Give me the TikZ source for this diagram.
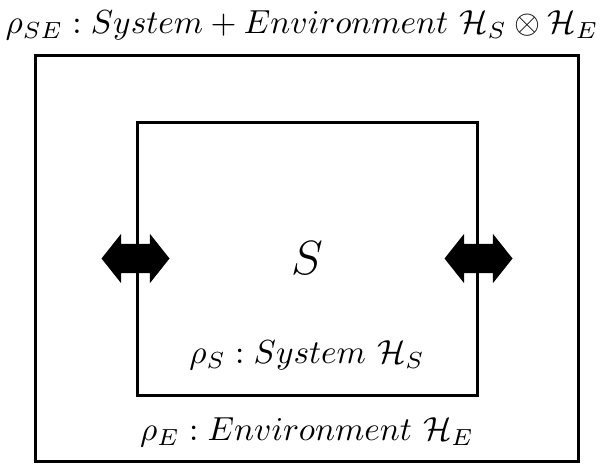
\documentclass[tikz,border=0pt]{standalone}
\usepackage{amsmath,amssymb}
\usetikzlibrary{positioning,shapes.arrows}

\begin{document}
\begin{tikzpicture}[
  x=0.3pt, y=-0.3pt,
  frame/.style={draw=black, line width=0.9pt, inner sep=0pt},
  swap/.style={double arrow, fill=black, draw=none, inner sep=0pt,
               text height=4.2pt, text depth=4.2pt, minimum height=20.4pt,
               double arrow head extend=3pt, double arrow tip angle=103},
  lab/.style={inner sep=0pt}
]
\useasboundingbox (0,0) rectangle (605,464);

% Boxes
\node[frame, minimum width=162.9pt, minimum height=121.8pt] (env) at (306.5,258) {};
\node[frame, minimum width=102pt, minimum height=81.9pt] (sys) at (307,258.5) {};

% Exchange with the environment
\node[swap] (inl) at (sys.west) {};
\node[swap] (inr) at (sys.east) {};

% Labels
\node[lab] (title) at (302,25) {$\rho_{SE}: System + Environment\ \mathcal{H}_S\otimes\mathcal{H}_E$};
\node[lab, font=\Large] (sname) at (sys.center) {$S$};
\node[lab] (slab) at (307,355) {$\rho_S: System\ \mathcal{H}_S$};
\node[lab] (elab) at (307,432) {$\rho_E: Environment\ \mathcal{H}_E$};
\end{tikzpicture}
\end{document}
